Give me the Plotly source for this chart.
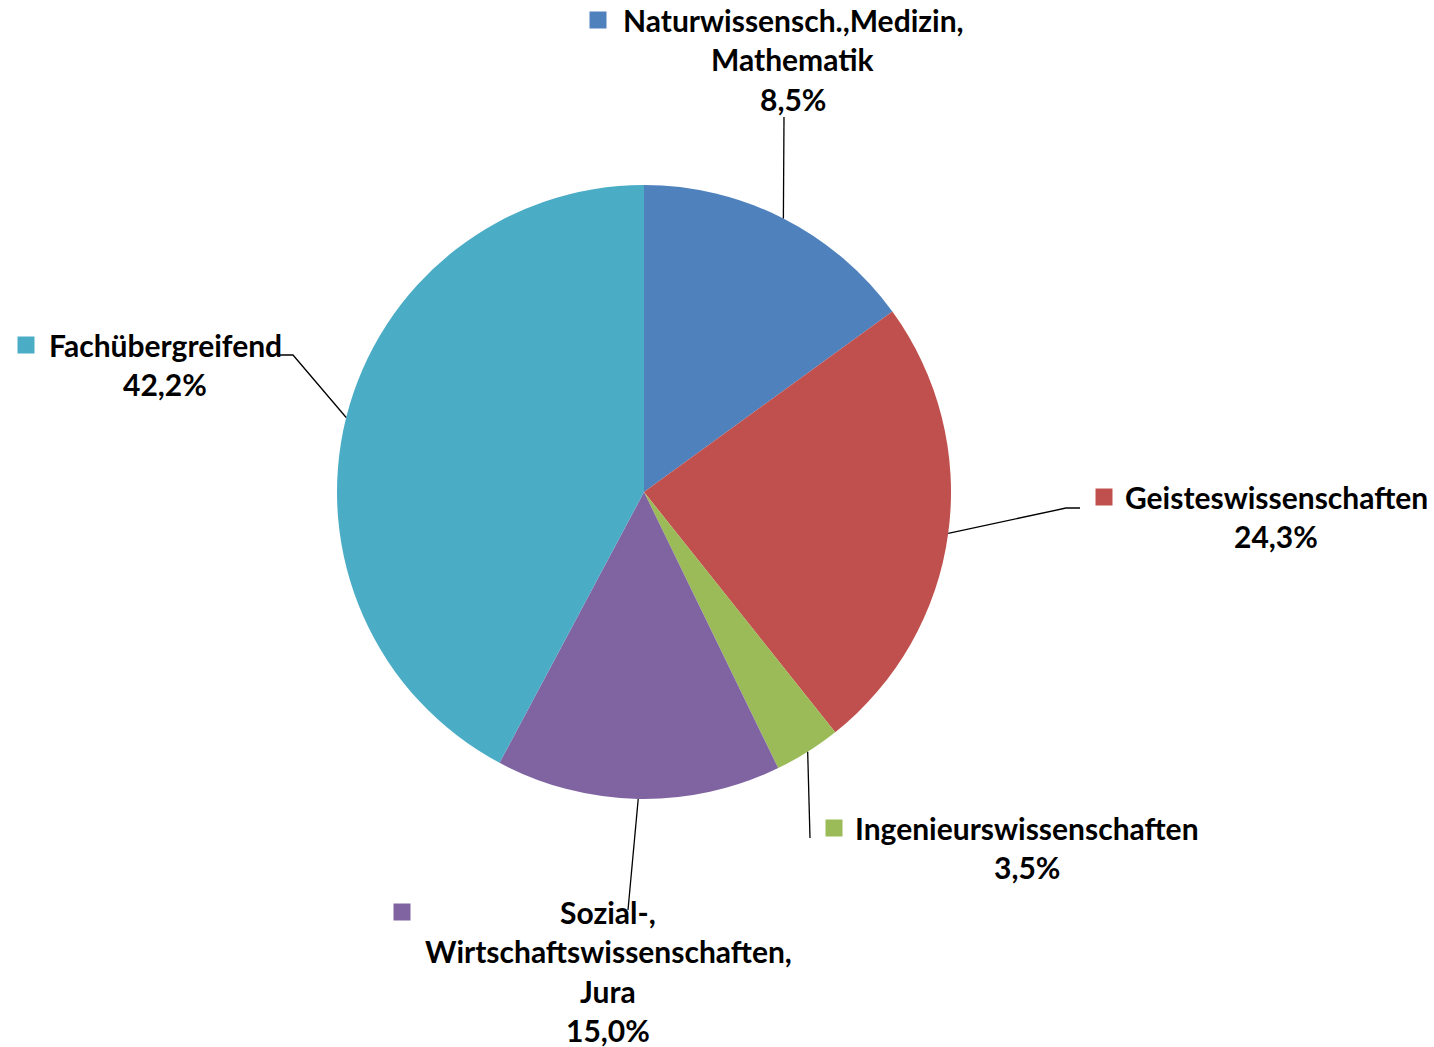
import math
import plotly.graph_objects as go

# ---- data ----
categories = ["Naturwissensch.,Medizin,<br>Mathematik", "Geisteswissenschaften",
              "Ingenieurswissenschaften", "Sozial-,<br>Wirtschaftswissenschaften,<br>Jura",
              "Fachübergreifend"]
slice_shares = [15.0, 24.3, 3.5, 15.0, 42.2]          # slice sizes as drawn
label_pct = ["8,5%", "24,3%", "3,5%", "15,0%", "42,2%"]  # percentages printed in labels
colors = ["#4F81BD", "#C0504D", "#9BBB59", "#8064A2", "#4BACC6"]

W, H = 1434, 1047
CX, CY, R = 644, 492, 307  # pie centre / radius in pixels

def px(x):
    return x / W

def py(y):
    return 1 - y / H

# label layout (pixel positions): text centre x, first line centre y, key square centre, leader end path
label_layout = [
    dict(cx=793, y0=20, key=(598, 20), path=[(784, 117)]),
    dict(cx=1276, y0=497, key=(1104, 497), path=[(1066, 508), (1080, 508)]),
    dict(cx=1027, y0=828, key=(834, 828), path=[(810, 838)]),
    dict(cx=608, y0=912, key=(402, 912), path=[(628, 910)]),
    dict(cx=165, y0=345, key=(26, 345), path=[(293, 355), (280, 355)]),
]
LINE_H = 39.3
FONT = dict(family="Lato", size=30, color="#000000", weight="bold")

fig = go.Figure(go.Pie(
    labels=[c.replace("<br>", " ") for c in categories],
    values=slice_shares,
    marker=dict(colors=colors, line=dict(width=0)),
    sort=False, direction="clockwise", rotation=0,
    textinfo="none", hoverinfo="label+percent",
    domain=dict(x=[px(CX - R), px(CX + R)], y=[py(CY + R), py(CY - R)]),
    showlegend=False,
))

annotations = []
shapes = []
total = sum(slice_shares)
cum = 0.0
for i, (cat, pct, col, lay) in enumerate(zip(categories, label_pct, colors, label_layout)):
    mid = (cum + slice_shares[i] / 2) / total * 2 * math.pi
    cum += slice_shares[i]
    sx = CX + R * math.sin(mid)
    sy = CY - R * math.cos(mid)
    pts = [(sx, sy)] + lay["path"]
    path = "M " + " L ".join(f"{px(x)},{py(y)}" for x, y in pts)
    shapes.append(dict(type="path", xref="paper", yref="paper", path=path,
                       line=dict(color="#000000", width=1.3)))
    lines = cat.split("<br>") + [pct]
    for j, t in enumerate(lines):
        annotations.append(dict(text=t, x=px(lay["cx"]), y=py(lay["y0"] + j * LINE_H),
                                xref="paper", yref="paper", xanchor="center", yanchor="middle",
                                showarrow=False, font=FONT))
    kx, ky = lay["key"]
    s = 8.5
    shapes.append(dict(type="rect", xref="paper", yref="paper",
                       x0=px(kx - s), x1=px(kx + s), y0=py(ky + s), y1=py(ky - s),
                       fillcolor=col, line=dict(width=0)))

fig.update_layout(width=W, height=H, margin=dict(l=0, r=0, t=0, b=0),
                  paper_bgcolor="white", plot_bgcolor="white",
                  annotations=annotations, shapes=shapes)

fig.write_html("out.html", config={"displayModeBar": False},
               post_script="document.body.style.margin='0';document.body.style.overflow='hidden';")
